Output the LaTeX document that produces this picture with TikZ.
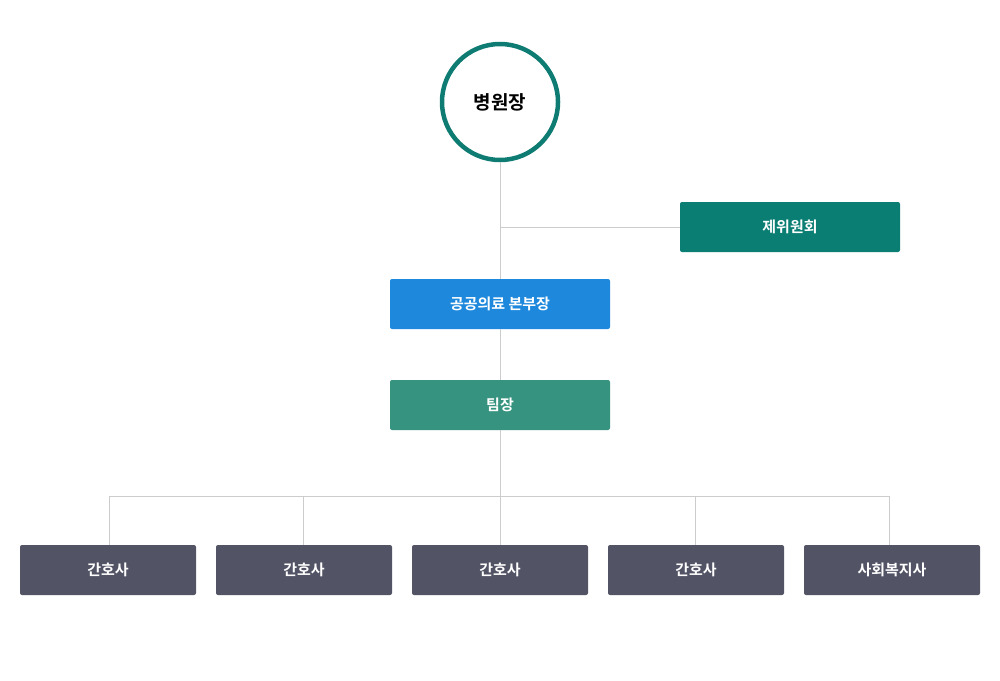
\documentclass[tikz,border=0pt]{standalone}
\usepackage{fontspec}
\setmainfont{Noto Sans CJK KR}[BoldFont={* Bold}]
\usetikzlibrary{positioning}
\definecolor{chiefTeal}{HTML}{0E7C72}
\definecolor{boardTeal}{HTML}{0A7E73}
\definecolor{headBlue}{HTML}{1E88DC}
\definecolor{leadGreen}{HTML}{35937F}
\definecolor{staffGray}{HTML}{525466}
\definecolor{wireGray}{HTML}{CCCCCC}
\tikzset{
	box/.style={rectangle, rounded corners=2pt, minimum width=220pt, minimum height=50pt,
		text=white, font=\bfseries\fontsize{15}{15}\selectfont, inner sep=0pt},
	staff/.style={box, fill=staffGray, minimum width=176pt},
	wire/.style={draw=wireGray, line width=1pt}
}
\begin{document}
\begin{tikzpicture}[x=1pt, y=-1pt]
	\useasboundingbox (0,0) rectangle (1000,680);

	% top
	\node[circle, draw=chiefTeal, line width=4.5pt, minimum size=116pt,
		font=\bfseries\fontsize{19}{19}\selectfont] (chief) at (500,102) {병원장};
	\node[box, fill=boardTeal] (board) at (790,227) {제위원회};
	\node[box, fill=headBlue] (head) at (500,304) {공공의료 본부장};
	\node[box, fill=leadGreen] (lead) at (500,405) {팀장};

	% staff row
	\node[staff] (n1) at (108,570) {간호사};
	\node[staff] (n2) at (304,570) {간호사};
	\node[staff] (n3) at (500,570) {간호사};
	\node[staff] (n4) at (696,570) {간호사};
	\node[staff] (sw) at (892,570) {사회복지사};

	\coordinate (split) at (500,227);
	\coordinate (bus) at (500,496);
	\coordinate (busL) at (109,496);
	\coordinate (busR) at (889,496);

	\draw[wire] (chief) -- (head);
	\draw[wire] (split) -- (board.west);
	\draw[wire] (head) -- (lead);
	\draw[wire] (lead) -- (n3);
	\draw[wire] (busL) -- (busR);
	\draw[wire] (busL) -- (busL |- n1.north);
	\draw[wire] (303,496) -- (303,545);
	\draw[wire] (695,496) -- (695,545);
	\draw[wire] (busR) -- (busR |- sw.north);

\end{tikzpicture}
\end{document}
